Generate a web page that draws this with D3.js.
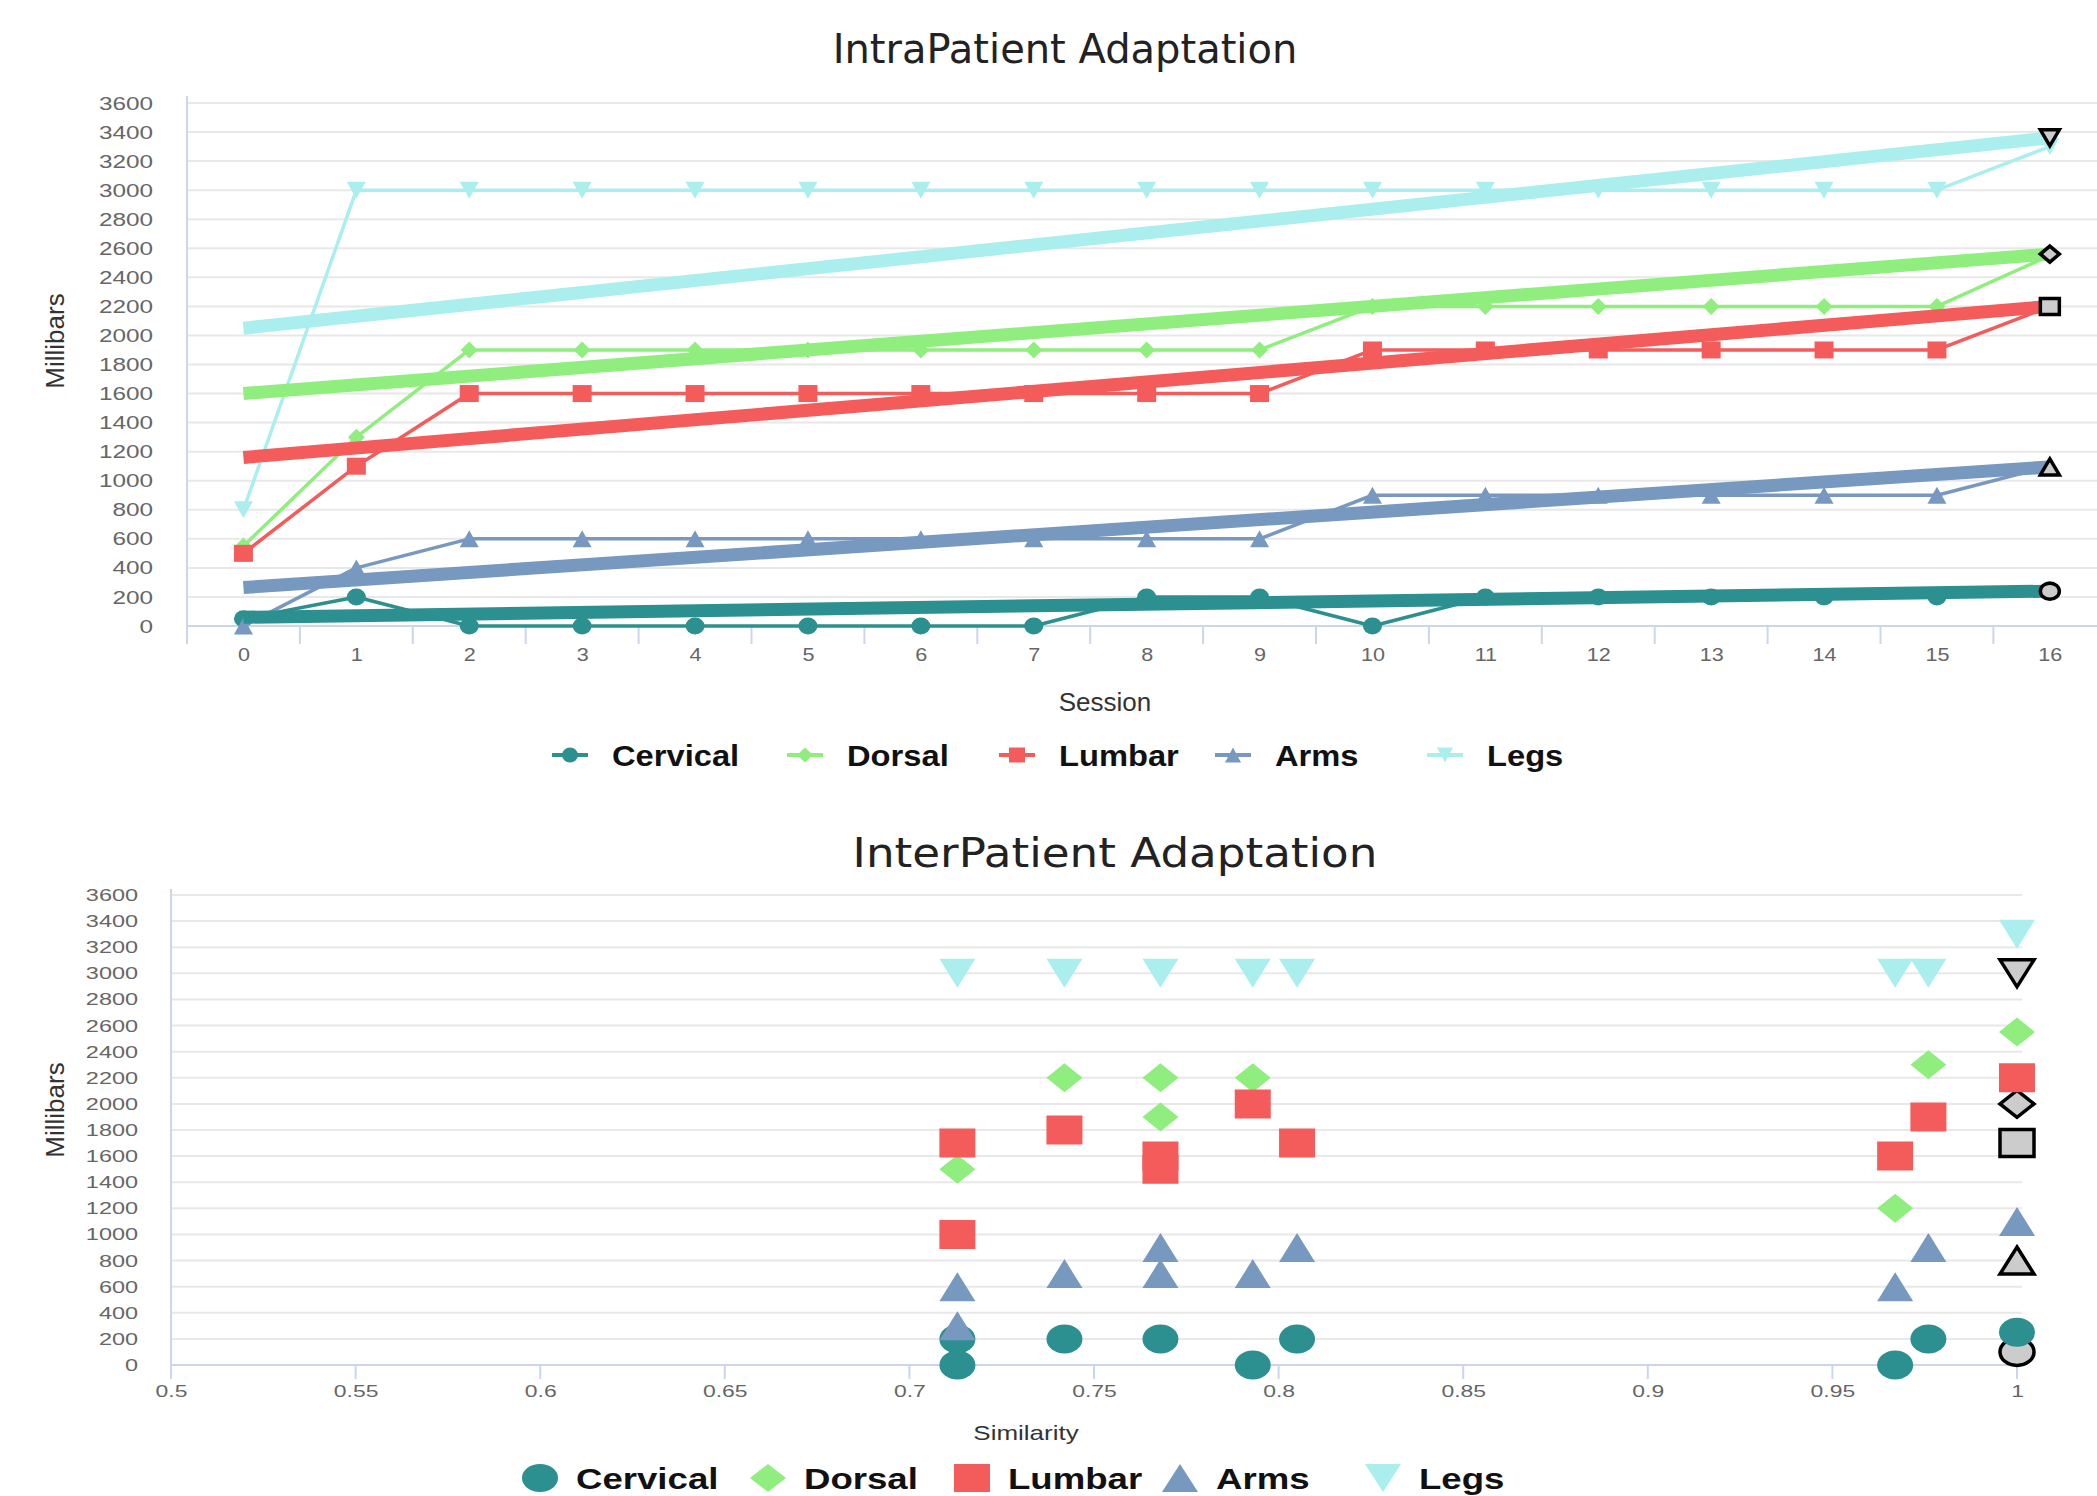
<!DOCTYPE html>
<html><head><meta charset="utf-8">
<script src="https://cdn.jsdelivr.net/npm/d3@7"></script>
<style>body{margin:0;background:#fff;} svg{display:block;}</style>
</head><body>
<svg id="c" width="2097" height="1496"></svg>
<script>
// ---------- DATA ----------
const seriesNames   = ["Cervical", "Dorsal", "Lumbar", "Arms", "Legs"];
const seriesColors  = ["#2b908f", "#90ee7e", "#f45b5b", "#7798bf", "#aaeeee"];
const seriesSymbols = ["circle", "diamond", "square", "triangle", "triangle-down"];

const sessions = [0,1,2,3,4,5,6,7,8,9,10,11,12,13,14,15,16];
const yTicks   = [0,200,400,600,800,1000,1200,1400,1600,1800,2000,2200,2400,2600,2800,3000,3200,3400,3600];
const simTicks = [0.5,0.55,0.6,0.65,0.7,0.75,0.8,0.85,0.9,0.95,1];

// IntraPatient (per session)
const cervicalIntra = [50,200,0,0,0,0,0,0,200,200,0,200,200,200,200,200,250];
const dorsalIntra   = [550,1300,1900,1900,1900,1900,1900,1900,1900,1900,2200,2200,2200,2200,2200,2200,2550];
const lumbarIntra   = [500,1100,1600,1600,1600,1600,1600,1600,1600,1600,1900,1900,1900,1900,1900,1900,2200];
const armsIntra     = [0,400,600,600,600,600,600,600,600,600,900,900,900,900,900,900,1100];
const legsIntra     = [800,3000,3000,3000,3000,3000,3000,3000,3000,3000,3000,3000,3000,3000,3000,3000,3300];
// trend lines: value at session 0 and session 16
const cervicalTrend = [60, 240];
const dorsalTrend   = [1600, 2560];
const lumbarTrend   = [1160, 2200];
const armsTrend     = [265, 1095];
const legsTrend     = [2050, 3360];

// InterPatient (similarity, millibars)
const cervicalInter = [[0.713,200],[0.713,0],[0.742,200],[0.768,200],[0.793,0],[0.805,200],[0.967,0],[0.976,200],[1.0,250]];
const dorsalInter   = [[0.713,1500],[0.742,2200],[0.768,2200],[0.768,1900],[0.793,2200],[0.967,1200],[0.976,2300],[1.0,2550]];
const lumbarInter   = [[0.713,1700],[0.713,1000],[0.742,1800],[0.768,1600],[0.768,1500],[0.793,2000],[0.805,1700],[0.967,1600],[0.976,1900],[1.0,2200]];
const armsInter     = [[0.713,600],[0.713,300],[0.742,700],[0.768,900],[0.768,700],[0.793,700],[0.805,900],[0.967,600],[0.976,900],[1.0,1100]];
const legsInter     = [[0.713,3000],[0.742,3000],[0.768,3000],[0.793,3000],[0.805,3000],[0.967,3000],[0.976,3000],[1.0,3300]];
// current patient (outlined markers), order matches seriesSymbols
const patientInter  = [[1.0,100],[1.0,2000],[1.0,1700],[1.0,800],[1.0,3000]];

// ---------- HELPERS ----------
const svg = d3.select("#c");
const GRID = "#e8e8e8", AXIS = "#ccd6eb", LABEL = "#666666";

function sym(type, w, h) {
  const a = w/2, b = h/2;
  switch (type) {
    case "circle": return `M${-a},0A${a},${b} 0 1,0 ${a},0A${a},${b} 0 1,0 ${-a},0Z`;
    case "square": return `M${-a},${-b}H${a}V${b}H${-a}Z`;
    case "diamond": return `M0,${-b}L${a},0L0,${b}L${-a},0Z`;
    case "triangle": return `M0,${-b}L${a},${b}L${-a},${b}Z`;
    default: return `M${-a},${-b}L${a},${-b}L0,${b}Z`;
  }
}
function styleTicks(g, size, sx) {
  g.select(".domain").remove();
  g.selectAll("line").remove();
  g.selectAll("text")
    .attr("font-family", "Liberation Sans, Arial, sans-serif")
    .attr("font-size", size).attr("fill", LABEL)
    .attr("transform", `scale(${sx},1)`);
}
function label(x, y, txt, size, opts = {}) {
  return svg.append("text")
    .attr("transform", `translate(${x},${y})${opts.rot ? " rotate(-90)" : ""} scale(${opts.sx || 1},1)`)
    .attr("text-anchor", opts.anchor || "middle")
    .attr("font-family", opts.family || "Liberation Sans, Arial, sans-serif")
    .attr("font-size", size)
    .attr("font-weight", opts.weight || "normal")
    .attr("fill", opts.fill || "#333")
    .text(txt);
}

// ---------- TOP CHART ----------
const intraSeries = [cervicalIntra, dorsalIntra, lumbarIntra, armsIntra, legsIntra];
const intraTrends = [cervicalTrend, dorsalTrend, lumbarTrend, armsTrend, legsTrend];

const tLeft = 187, tStep = 112.9;
const xBand = d3.scaleBand().domain(sessions).range([tLeft, tLeft + tStep * sessions.length]);
const xT = d => xBand(d) + xBand.bandwidth() / 2;
const yT = d3.scaleLinear().domain([0, 3600]).range([626, 103]);

const gTop = svg.append("g");
gTop.append("g").selectAll("line").data(yTicks).join("line")
  .attr("x1", tLeft).attr("x2", 2097)
  .attr("y1", d => yT(d)).attr("y2", d => yT(d))
  .attr("stroke", GRID).attr("stroke-width", 2);
gTop.append("line").attr("x1", tLeft).attr("x2", tLeft).attr("y1", 96).attr("y2", 626)
  .attr("stroke", AXIS).attr("stroke-width", 2);
gTop.append("line").attr("x1", tLeft).attr("x2", 2097).attr("y1", 626).attr("y2", 626)
  .attr("stroke", AXIS).attr("stroke-width", 2);
gTop.append("g").selectAll("line").data(sessions.map(d => xBand(d)).concat([xBand.range()[1]])).join("line")
  .attr("x1", d => d).attr("x2", d => d).attr("y1", 626).attr("y2", 644)
  .attr("stroke", AXIS).attr("stroke-width", 2);

gTop.append("g").attr("transform", "translate(153,0)")
  .call(d3.axisLeft(yT).tickValues(yTicks).tickSize(0).tickPadding(0).tickFormat(d3.format("d")))
  .call(g => styleTicks(g, 19, 1.28));
const xPoint = d3.scalePoint().domain(sessions).range([xT(sessions[0]), xT(sessions[sessions.length - 1])]);
gTop.append("g").attr("transform", "translate(0,648)")
  .call(d3.axisBottom(xPoint).tickSize(0).tickPadding(0))
  .call(g => styleTicks(g, 18, 1.2));

const lineT = d3.line().x((d, i) => xT(sessions[i])).y(d => yT(d));
intraSeries.forEach((s, k) => {
  gTop.append("path").attr("d", lineT(s)).attr("fill", "none")
    .attr("stroke", seriesColors[k]).attr("stroke-width", 3.5).attr("stroke-linejoin", "round");
  gTop.append("g").selectAll("path").data(s).join("path")
    .attr("transform", (d, i) => `translate(${xT(sessions[i])},${yT(d)})`)
    .attr("d", seriesSymbols[k] === "diamond" ? sym("diamond", 17, 17) : sym(seriesSymbols[k], 19, 17))
    .attr("fill", seriesColors[k]);
});
const trendLine = d3.line().x(d => xT(d[0])).y(d => yT(d[1]));
intraTrends.forEach((t, k) => {
  gTop.append("path")
    .attr("d", trendLine([[sessions[0], t[0]], [sessions[sessions.length - 1], t[1]]]))
    .attr("fill", "none").attr("stroke", seriesColors[k]).attr("stroke-width", 13);
});
intraTrends.forEach((t, k) => {
  gTop.append("path")
    .attr("transform", `translate(${xT(sessions[sessions.length - 1])},${yT(t[1])})`)
    .attr("d", sym(seriesSymbols[k], 19, 16))
    .attr("fill", "#cccccc").attr("stroke", "#000").attr("stroke-width", 3.5);
});

label(1065, 63, "IntraPatient Adaptation", 40, { family: "DejaVu Sans, sans-serif", fill: "#222" });
label(64, 341, "Millibars", 26, { rot: true, fill: "#333" });
label(1105, 711, "Session", 26, { fill: "#333" });

// top legend
const legTopX = [570, 805, 1017, 1233, 1445];
seriesNames.forEach((n, k) => {
  const g = svg.append("g").attr("transform", `translate(${legTopX[k]},755)`);
  g.append("line").attr("x1", -18).attr("x2", 18).attr("stroke", seriesColors[k]).attr("stroke-width", 4);
  g.append("path").attr("d", sym(seriesSymbols[k], 16, 15)).attr("fill", seriesColors[k]);
  g.append("text").attr("transform", "translate(42,11) scale(1.09,1)")
    .attr("font-family", "Liberation Sans, Arial, sans-serif").attr("font-weight", "bold")
    .attr("font-size", 30).attr("fill", "#111").text(n);
});

// ---------- BOTTOM CHART ----------
const interSeries = [cervicalInter, dorsalInter, lumbarInter, armsInter, legsInter];
const xB = d3.scaleLinear().domain([0.5, 1]).range([171, 2017]);
const yB = d3.scaleLinear().domain([0, 3600]).range([1365, 895]);
const gBot = svg.append("g");
gBot.append("g").selectAll("line").data(yTicks).join("line")
  .attr("x1", 171).attr("x2", 2022).attr("y1", d => yB(d)).attr("y2", d => yB(d))
  .attr("stroke", GRID).attr("stroke-width", 2);
gBot.append("line").attr("x1", 171).attr("x2", 171).attr("y1", 889).attr("y2", 1365)
  .attr("stroke", AXIS).attr("stroke-width", 2);
gBot.append("line").attr("x1", 171).attr("x2", 2022).attr("y1", 1365).attr("y2", 1365)
  .attr("stroke", AXIS).attr("stroke-width", 2);
gBot.append("g").selectAll("line").data(simTicks).join("line")
  .attr("x1", d => xB(d)).attr("x2", d => xB(d)).attr("y1", 1365).attr("y2", 1379)
  .attr("stroke", AXIS).attr("stroke-width", 2);
gBot.append("g").attr("transform", "translate(138,0)")
  .call(d3.axisLeft(yB).tickValues(yTicks).tickSize(0).tickPadding(0).tickFormat(d3.format("d")))
  .call(g => styleTicks(g, 17, 1.38));
gBot.append("g").attr("transform", "translate(0,1385)")
  .call(d3.axisBottom(xB).tickValues(simTicks).tickSize(0).tickPadding(0).tickFormat(d3.format("~g")))
  .call(g => styleTicks(g, 17, 1.35));

// outlined current-patient markers first
gBot.append("g").selectAll("path").data(patientInter).join("path")
  .attr("transform", d => `translate(${xB(d[0])},${yB(d[1])})`)
  .attr("d", (d, i) => sym(seriesSymbols[i], 34, 27))
  .attr("fill", "#cccccc").attr("stroke", "#000").attr("stroke-width", 3.5);
interSeries.forEach((s, k) => {
  gBot.append("g").selectAll("path").data(s).join("path")
    .attr("transform", d => `translate(${xB(d[0])},${yB(d[1])})`)
    .attr("d", sym(seriesSymbols[k], 36, 29))
    .attr("fill", seriesColors[k]);
});

label(1115, 867, "InterPatient Adaptation", 40, { family: "DejaVu Sans, sans-serif", fill: "#222", sx: 1.13 });
label(64, 1110, "Millibars", 26, { rot: true, fill: "#333" });
label(1026, 1440, "Similarity", 20, { fill: "#333", sx: 1.3 });

const legBotX = [540, 768, 972, 1180, 1383];
seriesNames.forEach((n, k) => {
  const g = svg.append("g").attr("transform", `translate(${legBotX[k]},1478)`);
  g.append("path").attr("d", sym(seriesSymbols[k], 36, 28)).attr("fill", seriesColors[k]);
  g.append("text").attr("transform", "translate(36,11) scale(1.22,1)")
    .attr("font-family", "Liberation Sans, Arial, sans-serif").attr("font-weight", "bold")
    .attr("font-size", 30).attr("fill", "#111").text(n);
});
</script>
</body></html>
